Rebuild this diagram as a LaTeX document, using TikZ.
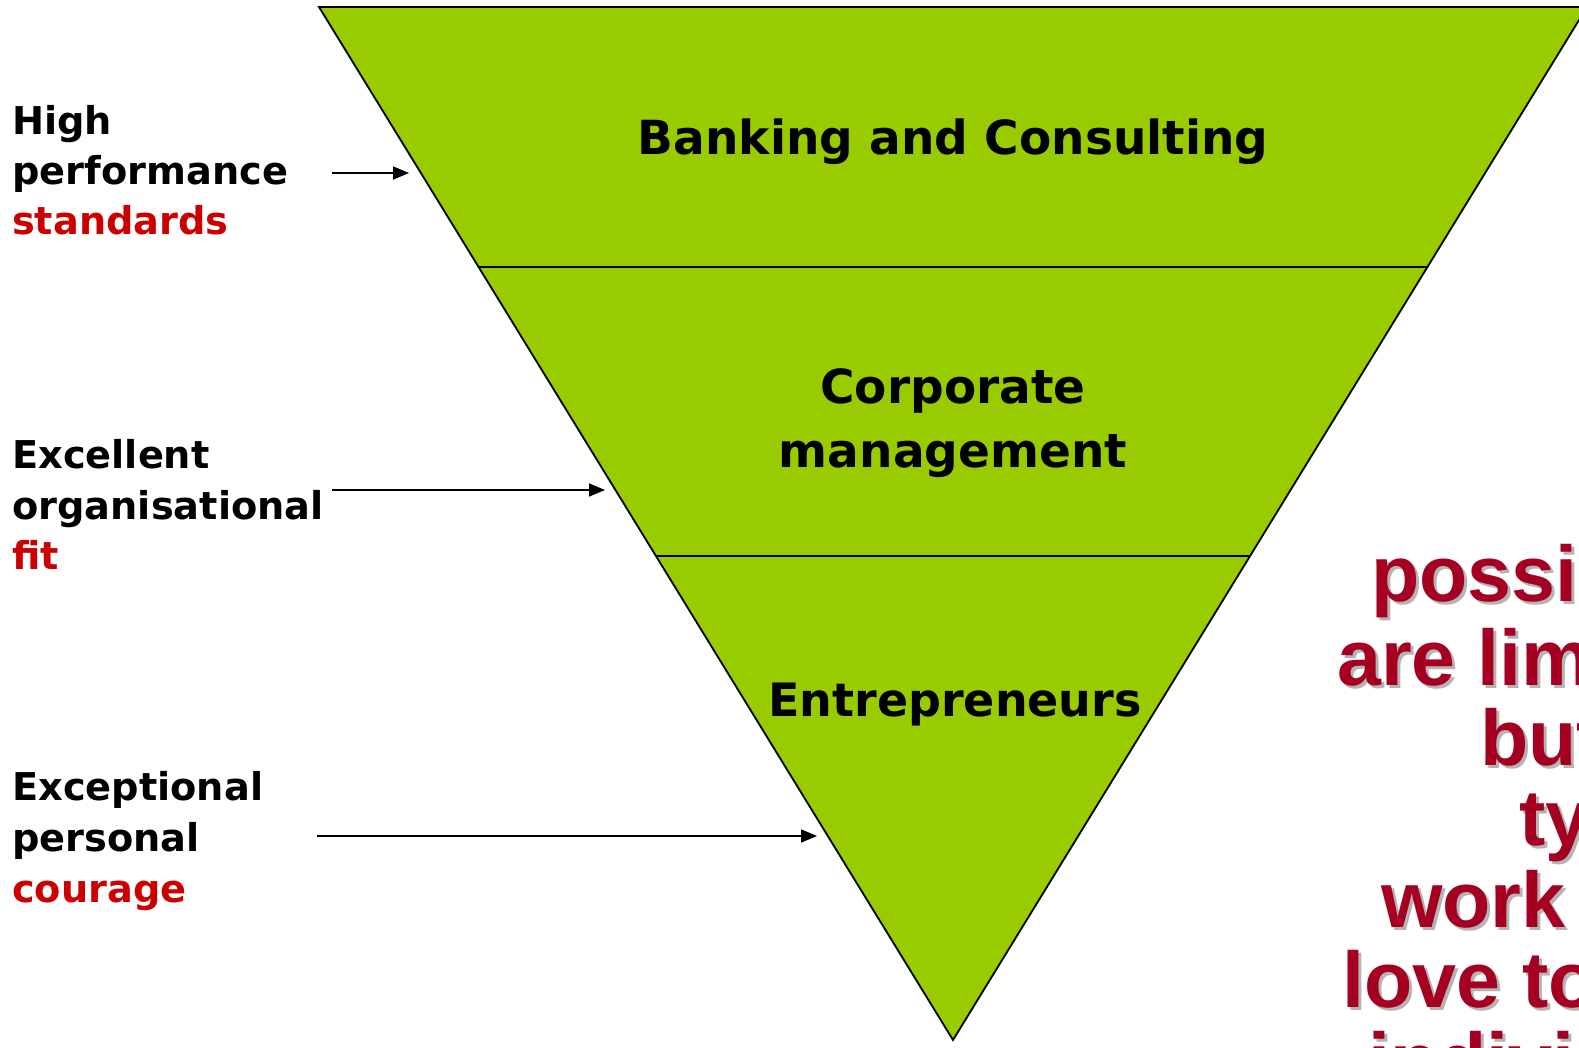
\documentclass[tikz,border=0pt]{standalone}
\usepackage{fontspec}
\newfontfamily\labfont{DejaVu Sans}
\newfontfamily\redfont{Liberation Sans}
\usetikzlibrary{arrows.meta,calc}
\definecolor{tgreen}{HTML}{99CC00}
\definecolor{lred}{HTML}{CC0000}
\definecolor{dred}{HTML}{A50021}
\definecolor{shad}{HTML}{B4B4B4}
\begin{document}
\begin{tikzpicture}[x=1pt,y=-1pt,
  lab/.style={anchor=base west,inner sep=0pt,font=\labfont\bfseries\fontsize{38.3}{46}\selectfont},
  labred/.style={lab,text=lred},
  tri/.style={anchor=base,inner sep=0pt,font=\labfont\bfseries\fontsize{47}{56}\selectfont},
  bigred/.style={anchor=base west,inner sep=0pt,font=\redfont\bfseries\fontsize{79}{90}\selectfont,text=dred},
  bigshad/.style={bigred,text=shad},
  arr/.style={-{Triangle[length=16pt,width=13pt]},line width=1.6pt}]
\useasboundingbox (0,0) rectangle (1579,1048);
\clip (0,0) rectangle (1579,1048);
% triangle
\coordinate (T1) at (319,7);
\coordinate (T2) at (1587,7);
\coordinate (T3) at (953,1040);
\fill[tgreen] (T1) -- (T2) -- (T3) -- cycle;
\draw[line width=1.8pt,line join=miter] (T1) -- (T2) -- (T3) -- cycle;
\coordinate (L1) at ($(T1)!0.2517!(T3)$);
\coordinate (R1) at ($(T2)!0.2517!(T3)$);
\coordinate (L2) at ($(T1)!0.5315!(T3)$);
\coordinate (R2) at ($(T2)!0.5315!(T3)$);
\draw[line width=1.3pt] (L1) -- (R1);
\draw[line width=1.3pt] (L2) -- (R2);
% triangle labels
\node[tri] (bank) at (953,155) {Banking and Consulting};
\node[tri] (corp1) at (953,403) {Corporate};
\node[tri] (corp2) at (953,467) {management};
\node[tri,font=\labfont\bfseries\fontsize{46}{55}\selectfont] (entr) at (955,716) {Entrepreneurs};
% left labels
\node[lab] (h1) at (12,135) {High};
\node[lab] (h2) at (12,185) {performance};
\node[labred] (h3) at (12,235) {standards};
\node[lab] (e1) at (12,468) {Excellent};
\node[lab] (e2) at (12,519) {organisational};
\node[labred] (e3) at (12,569) {fit};
\node[lab] (x1) at (12,800) {Exceptional};
\node[lab] (x2) at (12,851) {personal};
\node[labred] (x3) at (12,902) {courage};
% arrows
\coordinate (a1s) at (332,173);
\coordinate (a1e) at (409,173);
\coordinate (a2s) at (332,490);
\coordinate (a2e) at (605,490);
\coordinate (a3s) at (317,836);
\coordinate (a3e) at (817,836);
\draw[arr] (a1s) -- (a1e);
\draw[arr] (a2s) -- (a2e);
\draw[arr] (a3s) -- (a3e);
% right red text with shadow
\foreach \nm/\xx/\yy/\tt in {r1/1371/601/possib, r2/1337/685/are lim, r3/1480/765/but, r4/1519/845/type, r5/1381/927/work, r6/1342/1007/love to, r7/1368/1088/indivi}{
  \node[bigshad] (\nm s) at (\xx+3,\yy+3) {\tt};
  \node[bigred] (\nm) at (\xx,\yy) {\tt};
}
\end{tikzpicture}
\end{document}
